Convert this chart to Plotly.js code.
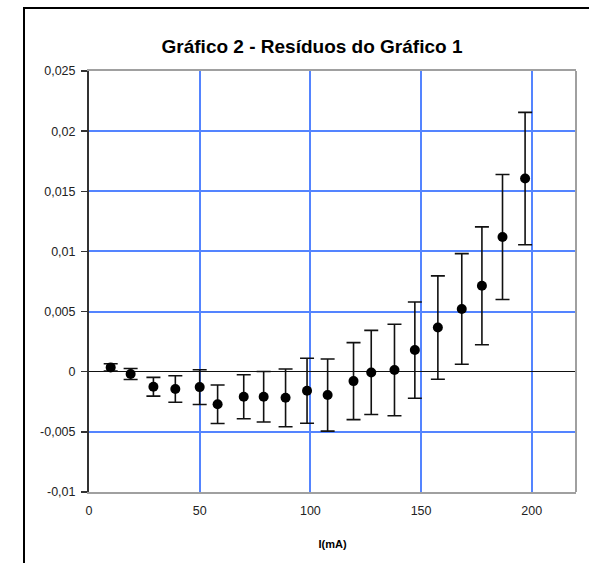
<!DOCTYPE html>
<html>
<head>
<meta charset="utf-8">
<script src="https://cdn.plot.ly/plotly-3.0.1.min.js"></script>
<style>
  html, body { margin: 0; padding: 0; background: #fff; }
  #chart { width: 589px; height: 563px; }
</style>
</head>
<body>
<div id="chart"></div>
<script>
// Current I (mA)
const currentMA = [9.8, 18.8, 29.1, 39.0, 50.0, 58.1, 69.9, 78.9, 88.8, 98.5,
                   107.8, 119.5, 127.5, 138.0, 147.2, 157.6, 168.4, 177.5, 186.8, 197.0];
// Residuals of the linear fit from chart 1
const residuals = [0.00036, -0.00019, -0.00125, -0.00144, -0.00128, -0.0027, -0.00208, -0.00208, -0.00217, -0.00158,
                   -0.00194, -0.00078, -0.00006, 0.00014, 0.0018, 0.00367, 0.00522, 0.00714, 0.0112, 0.01606];
// Uncertainty of each residual
const residualErr = [0.0003, 0.00046, 0.00078, 0.0011, 0.00144, 0.0016, 0.00183, 0.0021, 0.0024, 0.0027,
                     0.003, 0.0032, 0.0035, 0.0038, 0.004, 0.0043, 0.0046, 0.0049, 0.0052, 0.0055];

const yTickVals = [0.025, 0.02, 0.015, 0.01, 0.005, 0, -0.005, -0.01];
const yTickText = ['0,025', '0,02', '0,015', '0,01', '0,005', '0', '-0,005', '-0,01'];
const xTickVals = [0, 50, 100, 150, 200];

const gridBlue = 'rgb(84,132,255)';
const font = 'Liberation Sans, Arial, sans-serif';

const trace = {
  x: currentMA,
  y: residuals,
  type: 'scatter',
  mode: 'markers',
  marker: { color: '#000', size: 10 },
  error_y: { type: 'data', array: residualErr, visible: true, color: '#111', thickness: 1.6, width: 7 },
  hoverinfo: 'x+y'
};

const layout = {
  width: 589,
  height: 563,
  margin: { l: 89, r: 13, t: 71, b: 71 },
  paper_bgcolor: '#fff',
  plot_bgcolor: '#fff',
  showlegend: false,
  title: {
    text: 'Gráfico 2 - Resíduos do Gráfico 1',
    font: { family: font, size: 19, color: '#000', weight: 'bold' },
    xref: 'container', x: 312 / 589, xanchor: 'center',
    yref: 'container', y: 1 - 46 / 563, yanchor: 'middle'
  },
  xaxis: {
    range: [0, 220],
    tickvals: xTickVals,
    ticktext: xTickVals.map(String),
    showgrid: true, gridcolor: gridBlue, gridwidth: 2,
    zeroline: false,
    showline: true, linecolor: '#a0a0a0', linewidth: 2, mirror: true,
    ticks: 'outside', ticklen: 6, tickcolor: 'rgba(0,0,0,0)',
    tickfont: { family: font, size: 12.5, color: '#222' },
    title: { text: 'I(mA)', font: { family: font, size: 11, color: '#000', weight: 'bold' }, standoff: 23 }
  },
  yaxis: {
    range: [-0.01, 0.025],
    tickvals: yTickVals,
    ticktext: yTickText,
    showgrid: true, gridcolor: gridBlue, gridwidth: 2,
    zeroline: true, zerolinecolor: '#111', zerolinewidth: 1.2,
    showline: true, linecolor: '#333', linewidth: 2, mirror: false,
    ticks: 'outside', ticklen: 6, tickcolor: '#333', tickwidth: 1.5,
    ticklabelstandoff: 3,
    tickfont: { family: font, size: 12.5, color: '#222' }
  },
  shapes: [
    // right border of the plotting area
    { type: 'line', xref: 'paper', yref: 'paper', x0: 1, x1: 1, y0: 0, y1: 1,
      line: { color: '#a0a0a0', width: 2 } },
    // outer chart frame
    { type: 'rect', xref: 'paper', yref: 'paper',
      x0: (24 - 89) / 487, x1: 1.6, y0: -0.5, y1: (492 - 8) / 421,
      line: { color: '#000', width: 2 }, fillcolor: 'rgba(0,0,0,0)', layer: 'above' }
  ]
};

Plotly.newPlot('chart', [trace], layout, { displayModeBar: false, staticPlot: true });
</script>
</body>
</html>
